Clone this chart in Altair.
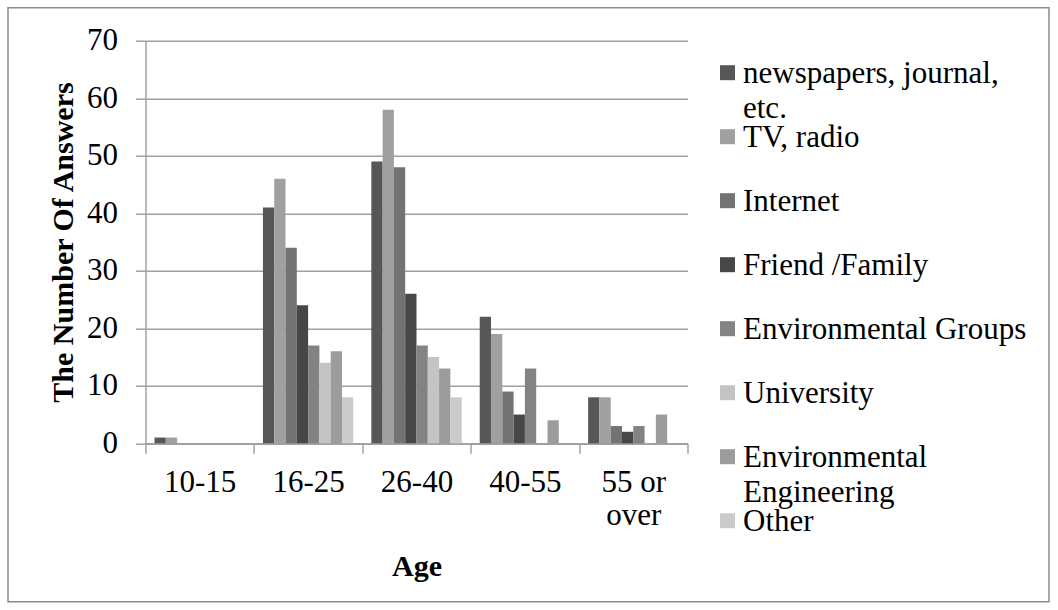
import altair as alt
import pandas as pd

FONT = "Liberation Serif"

ages = ["10-15", "16-25", "26-40", "40-55", "55 or over"]
series = ["newspapers, journal, etc.", "TV, radio", "Internet", "Friend /Family",
          "Environmental Groups", "University", "Environmental Engineering", "Other"]
legend_labels = ["newspapers, journal,\netc.", "TV, radio", "Internet", "Friend /Family",
                 "Environmental Groups", "University", "Environmental\nEngineering", "Other"]
colors = ["#575757", "#a0a0a0", "#737373", "#474747",
          "#838383", "#c4c4c4", "#9c9c9c", "#cbcbcb"]

newspapers = [1, 41, 49, 22, 8]
tv_radio = [1, 46, 58, 19, 8]
internet = [0, 34, 48, 9, 3]
friend_family = [0, 24, 26, 5, 2]
env_groups = [0, 17, 17, 13, 3]
university = [0, 14, 15, 0, 0]
env_engineering = [0, 16, 13, 4, 5]
other = [0, 8, 8, 0, 0]

values = [newspapers, tv_radio, internet, friend_family,
          env_groups, university, env_engineering, other]

rows = []
for s, vals in zip(series, values):
    for a, v in zip(ages, vals):
        rows.append({"Age": a, "Series": s, "Answers": v})
df = pd.DataFrame(rows)

leg_df = pd.DataFrame({"Series": series, "Label": legend_labels, "Idx": list(range(len(series)))})

color_enc = alt.Color("Series:N", sort=series,
                      scale=alt.Scale(domain=series, range=colors), legend=None)

bars = alt.Chart(df).mark_bar().encode(
    x=alt.X("Age:N", sort=ages,
            scale=alt.Scale(paddingInner=0, paddingOuter=0),
            axis=alt.Axis(title="Age", tickBand="extent", labelAngle=0,
                          labelExpr="datum.label == '55 or over' ? ['55 or', 'over'] : datum.label",
                          labelFont=FONT, labelFontWeight=400,
                          labelFontSize=31, labelLineHeight=33, labelPadding=14, tickSize=10,
                          titleFontSize=30, titleFontWeight="bold",
                          titleBaseline="alphabetic", titleY=132, grid=False)),
    xOffset=alt.XOffset("Series:N", sort=series,
                        scale=alt.Scale(paddingOuter=0.8, paddingInner=0)),
    y=alt.Y("Answers:Q", scale=alt.Scale(domain=[0, 70], nice=False),
            axis=alt.Axis(title="The Number Of Answers", values=list(range(0, 71, 10)),
                          labelFont=FONT, labelFontWeight=400,
                          labelFontSize=31, labelPadding=18, tickSize=10, grid=True,
                          titleFontSize=30, titleFontWeight="bold",
                          titleBaseline="alphabetic", titleX=-73)),
    color=color_enc,
)

leg_y = alt.Y("Idx:Q", scale=alt.Scale(domain=[0, 7], range=[32, 480]), axis=None)

leg_sym = alt.Chart(leg_df).mark_square(size=225, opacity=1).encode(
    x=alt.value(582), y=leg_y, color=color_enc)

leg_txt = alt.Chart(leg_df).mark_text(
    align="left", baseline="alphabetic", dy=10, lineBreak="\n", lineHeight=35,
    font=FONT, fontWeight=400, fontSize=31, color="#000000").encode(
    x=alt.value(597.5), y=leg_y, text="Label:N")

frame = alt.Chart(alt.Data(values=[{"a": 1}])).mark_rect(
    fillOpacity=0, stroke="#8c8c8c", strokeWidth=1.5).encode(
    x=alt.value(-137.5), x2=alt.value(903.5), y=alt.value(-33), y2=alt.value(561))

chart = alt.layer(frame, bars, leg_sym, leg_txt).resolve_scale(
    y="independent"
).properties(
    width=542, height=402.6,
    autosize=alt.AutoSizeParams(type="none"),
    padding={"left": 145.5, "top": 40.7, "right": 370.5, "bottom": 166.7},
    background="white",
).configure_view(stroke="transparent").configure_axis(
    titleFont=FONT, labelColor="#000000", titleColor="#000000",
    domainColor="#a0a0a0", tickColor="#a0a0a0", gridColor="#a0a0a0",
    domainWidth=1.5, tickWidth=1.5, gridWidth=1.5,
)

chart.save("out.html", embed_options={"renderer": "svg", "actions": False})
